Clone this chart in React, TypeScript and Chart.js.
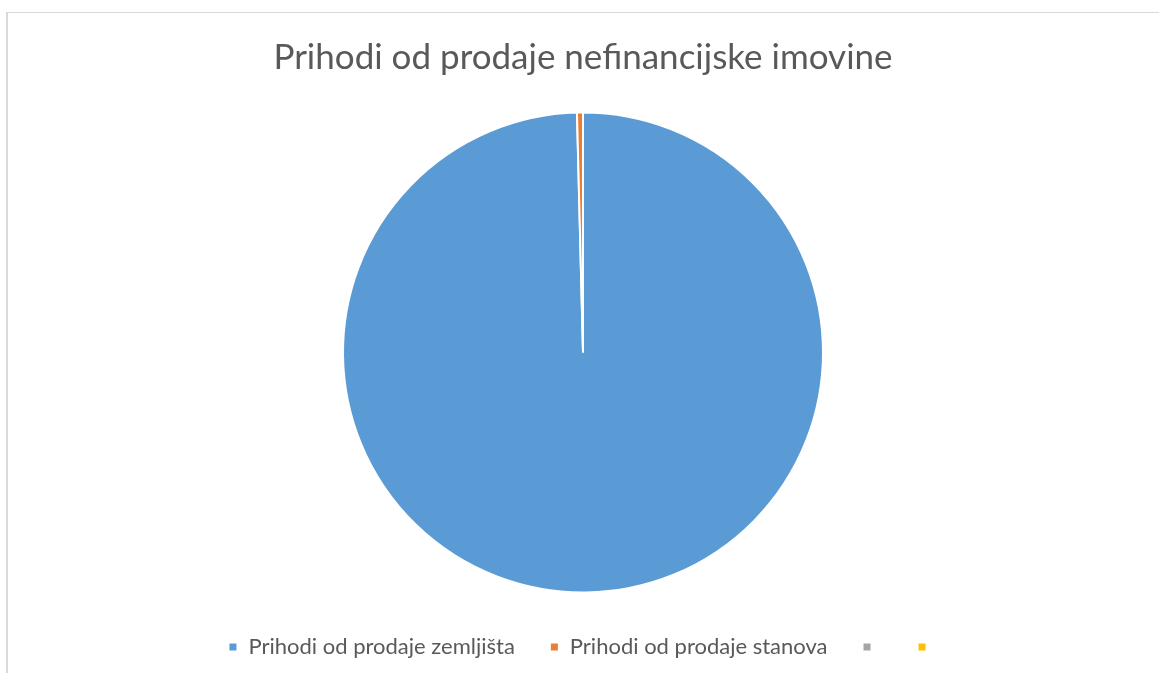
import React, { useEffect, useRef } from "react";
import { Chart, registerables } from "chart.js";

Chart.register(...registerables);

const title = "Prihodi od prodaje nefinancijske imovine";
const categories = ["Prihodi od prodaje zemljišta", "Prihodi od prodaje stanova", "", ""];
const values = [99.6, 0.4, 0, 0];
const colors = ["#5B9BD5", "#ED7D31", "#A5A5A5", "#FFC000"];

const FONT = "Lato, 'Open Sans', sans-serif";

export default function App() {
  const ref = useRef<HTMLCanvasElement | null>(null);

  useEffect(() => {
    document.body.style.overflow = "hidden";
    if (!ref.current) return;
    const chart = new Chart(ref.current, {
      type: "pie",
      data: {
        labels: categories,
        datasets: [
          {
            data: values,
            backgroundColor: colors,
            borderColor: "#ffffff",
            borderWidth: 2,
            radius: 240,
          },
        ],
      },
      options: {
        responsive: false,
        animation: false,
        layout: { padding: 0 },
        plugins: {
          title: {
            display: true,
            text: title,
            color: "#595959",
            font: { family: FONT, size: 35, weight: "normal", lineHeight: 1.2 },
            padding: { top: 24, bottom: 25 },
          },
          legend: {
            display: true,
            position: "bottom",
            labels: {
              color: "#595959",
              font: { family: FONT, size: 22 },
              boxWidth: 9,
              boxHeight: 9,
              padding: 35,
            },
          },
          tooltip: { enabled: false },
        },
      },
    });
    return () => chart.destroy();
  }, []);

  return (
    <div
      style={{
        position: "fixed",
        left: 6,
        top: 12,
        width: 1151,
        height: 700,
        borderLeft: "2px solid #d9d9d9",
        borderTop: "1px solid #d9d9d9",
        borderRight: "1px solid #d9d9d9",
        overflow: "hidden",
        background: "#fff",
      }}
    >
      <canvas ref={ref} width={1150} height={655} style={{ display: "block" }} />
    </div>
  );
}
